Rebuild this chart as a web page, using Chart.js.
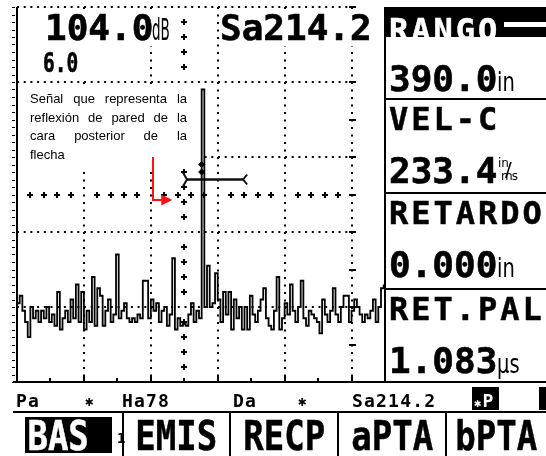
<!DOCTYPE html>
<html lang="es">
<head>
<meta charset="utf-8">
<title>A-scan</title>
<script src="https://cdn.jsdelivr.net/npm/chart.js@4.4.1/dist/chart.umd.min.js"></script>
<style>
  html, body { margin: 0; padding: 0; background: #fff; }
  #screen { position: relative; width: 546px; height: 456px; overflow: hidden; background: #fff; color: #000;
            font-family: 'DejaVu Sans Mono', monospace; }
  #scan { position: absolute; left: 0; top: 0; }
  .t { position: absolute; white-space: nowrap; font-weight: bold; }
  .big { font-size: 36px; line-height: 36px; -webkit-text-stroke: 0.6px currentColor; }
  .hdr { font-size: 32px; line-height: 32px; letter-spacing: 3px; -webkit-text-stroke: 0.5px currentColor; }
  .unit { position: absolute; white-space: nowrap; font-family: 'DejaVu Sans', sans-serif; font-size: 26px;
          line-height: 26px; transform: scaleX(0.75); transform-origin: 0 0; }
  .rule { position: absolute; background: #000; }
  .note { position: absolute; left: 30px; top: 90px; width: 157px; font: 13px/18.5px 'Liberation Sans', Arial, sans-serif; }
  .note div { text-align: justify; text-align-last: justify; }
  .note div.last { text-align-last: left; }
  .status { font-size: 18px; line-height: 18px; letter-spacing: 1.2px; }
  .menu { position: absolute; top: 416px; font-size: 40px; line-height: 40px; font-weight: bold; text-align: center;
          white-space: nowrap; -webkit-text-stroke: 0.5px currentColor; }
  .menu span { display: inline-block; transform: scaleX(0.85); }
</style>
</head>
<body>
<div id="screen">
  <canvas id="scan" width="546" height="456"></canvas>
  <div id="overlay"></div>
</div>
<script>
// A-scan trace: amplitude in % of screen height, one sample every SAMPLE_STEP divisions
const SAMPLE_STEP = 0.04;
const SIGNAL_AMP = [
  21, 23, 19, 16, 12, 20, 17, 19, 16, 19,
  17, 20, 16, 18, 15, 24, 14, 17, 19, 16,
  22, 17, 26, 16, 24, 14, 19, 16, 28, 15,
  25, 23, 15, 19, 22, 16, 18, 34, 17, 19,
  21, 17, 16, 17, 16, 18, 17, 27, 27, 17,
  22, 19, 21, 16, 19, 20, 15, 18, 33, 14,
  17, 15, 16, 15, 18, 21, 16, 19, 17, 78,
  20, 31, 20, 21, 29, 22, 16, 24, 18, 24,
  14, 22, 17, 20, 14, 20, 14, 23, 18, 16,
  19, 22, 25, 17, 15, 14, 19, 28, 14, 17,
  21, 18, 26, 19, 16, 20, 27, 17, 15, 19,
  18, 17, 16, 13, 22, 18, 16, 19, 25, 18,
  16, 20, 23, 23, 16, 19, 22, 20, 18, 16,
  18, 17, 19, 22, 16, 20, 25, 26
];

const X_MAX = 5.5;   // divisions visible left of the side panel
const Y_MAX = 100;   // % screen height
const X_DIVS = [1, 2, 3, 4, 5];
const Y_DIVS = [20, 40, 60, 80, 100];
const CENTER_X = 2.5;
const CENTER_Y = 50;

// gate A and the echo marks on the back-wall signal
const GATE_START = 2.54;
const GATE_END = 3.38;
const GATE_LEVEL = 54;
const ECHO_POS = 2.76;
const ECHO_MARKS = [58, 56];

// red annotation arrow (divisions / % height)
const ARROW_X = 2.03;
const ARROW_TOP = 60;
const ARROW_Y = 48.5;
const ARROW_TIP = 2.32;

const GAIN_DB = '104.0';
const GAIN_STEP = '6.0';
const SOUND_PATH = 'Sa214.2';

const PANEL_HEADERS = ['RANGO', 'VEL-C', 'RETARDO', 'RET.PAL'];
const PANEL_VALUES = ['390.0', '233.4', '0.000', '1.083'];
const PANEL_UNITS = ['in', 'in/ms', 'in', 'µs'];

const STATUS_ITEMS = ['Pa', '✱', 'Ha78', 'Da', '✱', 'Sa214.2'];
const MENU_ITEMS = ['BAS', 'EMIS', 'RECP', 'aPTA', 'bPTA'];

const NOTE_LINES = ['Señal que representa la', 'reflexión de pared de la', 'cara posterior de la', 'flecha'];

// layout (pixels)
const PANEL_TOPS = [7, 99, 193, 289];
const STATUS_LEFT = [16, 85, 122, 233, 298, 352];
const MENU_CELLS = [[17, 100], [123, 230], [230, 338], [338, 446], [446, 546]];
const MASKS = [[18, 9, 160, 37], [18, 46, 122, 34], [18, 84, 182, 84], [221, 9, 163, 37]];

function cross(ctx, cx, cy) {
    ctx.fillRect(cx - 3, cy - 1, 6, 2);
    ctx.fillRect(cx - 1, cy - 3, 2, 6);
}

function seg(ctx, x1, y1, x2, y2) {
    ctx.beginPath();
    ctx.moveTo(x1, y1);
    ctx.lineTo(x2, y2);
    ctx.stroke();
}

const screenDecor = {
    id: 'screenDecor',
    beforeDatasetsDraw(chart) {
        const { ctx, scales: { x, y } } = chart;
        const px = v => Math.round(x.getPixelForValue(v));
        const py = v => Math.round(y.getPixelForValue(v));
        ctx.save();
        ctx.strokeStyle = '#000';
        ctx.fillStyle = '#000';
        ctx.lineWidth = 2;

        // dotted divisions
        ctx.setLineDash([2, 5.5]);
        X_DIVS.forEach(v => seg(ctx, px(v), py(Y_MAX), px(v), py(0)));
        ctx.setLineDash([2, 4.7]);
        Y_DIVS.forEach(v => seg(ctx, px(0), py(v), px(5), py(v)));
        ctx.setLineDash([]);

        // half-division dashes on the last division line
        for (let k = 0; k <= 10; k++) ctx.fillRect(px(5) - 3, py(k * 10) - 1, 7, 2);

        // left border + ruler
        ctx.fillRect(px(0) - 1, py(Y_MAX), 2, py(0) - py(Y_MAX));
        for (let k = 0; k <= 50; k++) ctx.fillRect(px(0) - 5, py(k * 2), 3, 1);

        // bottom axis and ticks
        ctx.fillRect(13, py(0) - 1, 533, 2);
        for (let k = 0; k <= 11; k++) {
            const h = k % 2 === 0 ? 7 : 4;
            ctx.fillRect(px(k / 2) - 1, py(0) - h, 2, h);
        }

        // centre cross lines
        for (let k = 1; k < 25; k++) {
            if (k % 5 !== 0) cross(ctx, px(CENTER_X), py(k * 4));
        }
        for (let k = 1; k < 25; k++) {
            if (k % 5 !== 0) cross(ctx, px(k * 0.2), py(CENTER_Y));
        }

        // readout backgrounds
        ctx.fillStyle = '#fff';
        MASKS.forEach(m => ctx.fillRect(m[0], m[1], m[2], m[3]));
        ctx.restore();
    },
    afterDatasetsDraw(chart) {
        const { ctx, scales: { x, y } } = chart;
        const gx1 = x.getPixelForValue(GATE_START);
        const gx2 = x.getPixelForValue(GATE_END);
        const gy = y.getPixelForValue(GATE_LEVEL);
        ctx.save();
        ctx.strokeStyle = '#111';
        ctx.lineWidth = 2;
        ctx.beginPath();
        ctx.moveTo(gx1 - 4, gy - 7); ctx.lineTo(gx1, gy); ctx.lineTo(gx1 - 4, gy + 7);
        ctx.moveTo(gx2 + 4, gy - 5); ctx.lineTo(gx2, gy); ctx.lineTo(gx2 + 4, gy + 5);
        ctx.stroke();

        // red arrow pointing at the echo
        const ax = Math.round(x.getPixelForValue(ARROW_X));
        const at = y.getPixelForValue(ARROW_TOP);
        const ay = Math.round(y.getPixelForValue(ARROW_Y));
        const tip = x.getPixelForValue(ARROW_TIP);
        ctx.strokeStyle = '#ff1010';
        ctx.fillStyle = '#ff1010';
        ctx.beginPath();
        ctx.moveTo(ax, at);
        ctx.lineTo(ax, ay);
        ctx.lineTo(tip - 10, ay);
        ctx.stroke();
        ctx.beginPath();
        ctx.moveTo(tip - 11, ay - 5.5);
        ctx.lineTo(tip, ay);
        ctx.lineTo(tip - 11, ay + 5.5);
        ctx.closePath();
        ctx.fill();
        ctx.restore();
    }
};

function buildOverlay() {
    const o = document.getElementById('overlay');
    const add = (cls, text, css) => {
        const d = document.createElement('div');
        d.className = cls;
        d.textContent = text;
        Object.assign(d.style, css || {});
        o.appendChild(d);
        return d;
    };

    // top readouts
    add('t big', GAIN_DB, { left: '45px', top: '9.5px' });
    add('unit', 'dB', { left: '152px', top: '14.6px', fontSize: '30px', lineHeight: '30px', transform: 'scaleX(0.45)' });
    add('t', GAIN_STEP, { left: '43px', top: '50px', fontSize: '26px', lineHeight: '26px', transform: 'scaleX(0.75)',
        transformOrigin: '0 0', webkitTextStroke: '0.6px #000' });
    add('t big', SOUND_PATH, { left: '220px', top: '9.5px' });

    const note = add('note', '');
    NOTE_LINES.forEach((line, i) => {
        const d = document.createElement('div');
        d.textContent = line;
        if (i === NOTE_LINES.length - 1) d.className = 'last';
        note.appendChild(d);
    });

    // side panel
    add('rule', '', { left: '384px', top: '7px', width: '2px', height: '375px' });
    add('rule', '', { left: '386px', top: '7px', width: '160px', height: '30px' });
    add('rule', '', { left: '504px', top: '22px', width: '42px', height: '5px', background: '#fff' });
    PANEL_TOPS.forEach((top, i) => {
        if (i > 0) add('rule', '', { left: '385px', top: (top - 1) + 'px', width: '161px', height: '2px' });
        const capTop = top + (i === 0 ? 11 : 8);
        add('t hdr', PANEL_HEADERS[i], { left: '389px', top: (capTop - 3.8) + 'px', color: i === 0 ? '#fff' : '#000' });
        add('t big', PANEL_VALUES[i], { left: '389px', top: (top + 53.7) + 'px' });
        const unit = PANEL_UNITS[i];
        if (unit === 'in/ms') {
            const f = add('unit', '', { left: '498px', top: (top + 58) + 'px', transform: 'none', fontSize: '12px', lineHeight: '12px', width: '20px', height: '26px' });
            f.innerHTML = '<span style="position:absolute;left:0;top:0">in</span>' +
                '<span style="position:absolute;left:7px;top:2px;font-size:20px;line-height:20px">/</span>' +
                '<span style="position:absolute;left:3px;top:13px;letter-spacing:-1px">ms</span>';
        } else {
            add('unit', unit, { left: '497px', top: (top + 62.2) + 'px' });
        }
    });

    // status line
    STATUS_ITEMS.forEach((s, i) => {
        const star = s === '✱';
        add('t status', s, { left: STATUS_LEFT[i] + 'px', top: star ? '392px' : '391.8px', fontSize: star ? '14px' : '18px' });
    });
    add('rule', '', { left: '472px', top: '387px', width: '27px', height: '23px' });
    const inv = add('t status', '', { left: '474px', top: '391.8px', color: '#fff' });
    inv.innerHTML = '<span style="font-size:12px">✱</span>P';
    add('rule', '', { left: '539px', top: '387px', width: '7px', height: '23px' });

    // soft-key menu
    add('rule', '', { left: '13px', top: '411px', width: '533px', height: '2px' });
    MENU_CELLS.slice(1).forEach(c => add('rule', '', { left: (c[0] - 1) + 'px', top: '412px', width: '2px', height: '44px' }));
    add('rule', '', { left: '25px', top: '417px', width: '87px', height: '36px' });
    MENU_ITEMS.forEach((m, i) => {
        const c = MENU_CELLS[i];
        const d = add('menu', '', { left: c[0] + 'px', width: (c[1] - c[0]) + 'px', color: i === 0 ? '#fff' : '#000' });
        const s = document.createElement('span');
        s.textContent = m;
        d.appendChild(s);
    });
    add('t', '1', { left: '117px', top: '431px', fontSize: '14px', lineHeight: '14px' });
}

function buildChart() {
    const trace = SIGNAL_AMP.map((a, i) => ({ x: i * SAMPLE_STEP, y: a }));
    new Chart(document.getElementById('scan'), {
        type: 'line',
        data: {
            datasets: [
                { label: 'A-scan', data: trace, borderColor: '#000', borderWidth: 1.8, stepped: true, pointRadius: 0 },
                {
                    label: 'Puerta A',
                    data: [{ x: GATE_START, y: GATE_LEVEL }, { x: GATE_END, y: GATE_LEVEL }],
                    borderColor: '#111', borderWidth: 2.5, pointRadius: 0
                },
                {
                    label: 'Eco',
                    data: ECHO_MARKS.map(a => ({ x: ECHO_POS, y: a })),
                    showLine: false, pointStyle: 'rectRot', pointRadius: 3,
                    backgroundColor: '#000', borderColor: '#000'
                }
            ]
        },
        options: {
            responsive: false,
            animation: false,
            devicePixelRatio: 1,
            events: [],
            layout: { padding: { left: 17, top: 7, right: 161, bottom: 74 } },
            scales: {
                x: { type: 'linear', min: 0, max: X_MAX, display: false },
                y: { min: 0, max: Y_MAX, display: false }
            },
            plugins: { legend: { display: false }, tooltip: { enabled: false } }
        },
        plugins: [screenDecor]
    });
}

document.addEventListener('DOMContentLoaded', () => {
    buildChart();
    buildOverlay();
});
</script>
</body>
</html>
